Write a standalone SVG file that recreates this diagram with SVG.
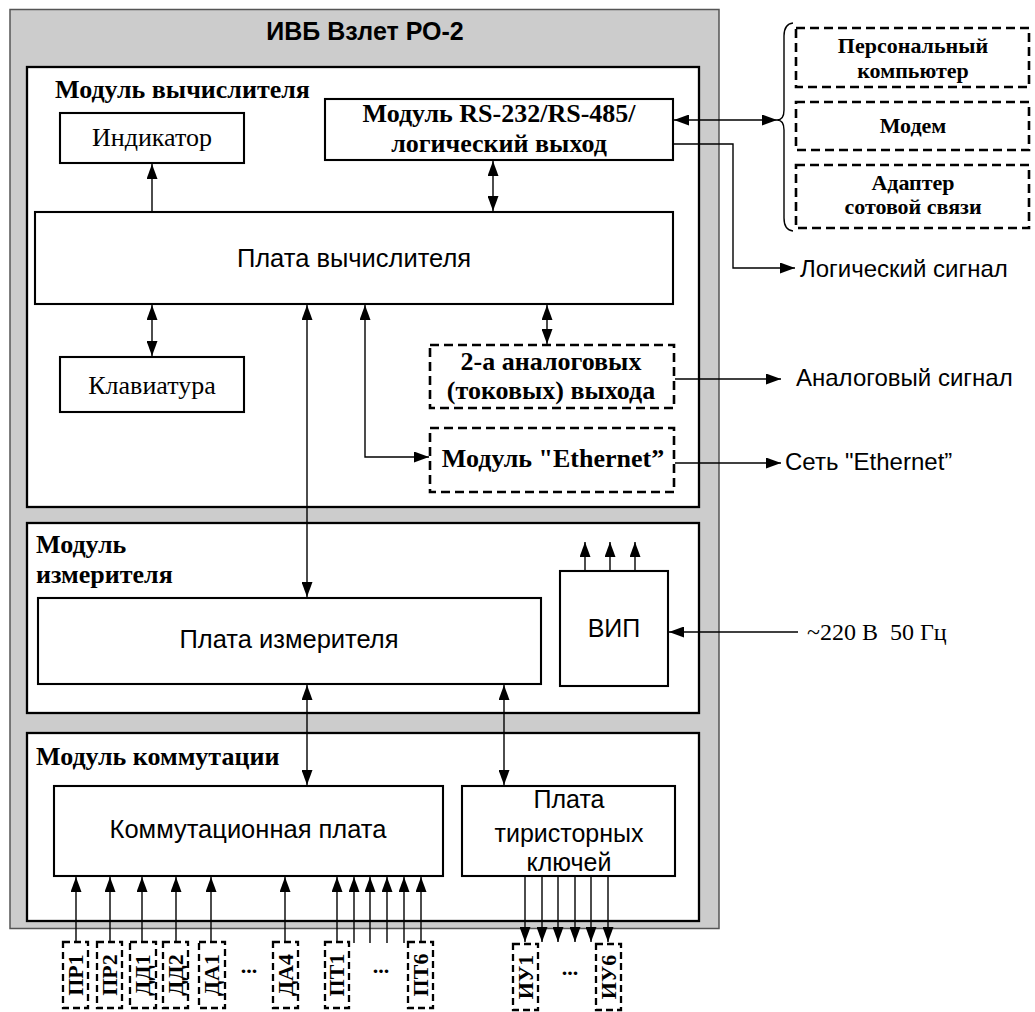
<svg xmlns="http://www.w3.org/2000/svg" width="1035" height="1012" viewBox="0 0 1035 1012">
<style>
.bg{fill:#ffffff}
.gray{fill:#cccccc;stroke:#555555;stroke-width:1.5}
.mod{fill:#ffffff;stroke:#000000;stroke-width:2.3}
.box{fill:#ffffff;stroke:#000000;stroke-width:2.1}
.dash{fill:#ffffff;stroke:#000000;stroke-width:2.6;stroke-dasharray:9 5}
.sdash{fill:#ffffff;stroke:#000000;stroke-width:2.3;stroke-dasharray:7 4}
.ln{fill:none;stroke:#000000;stroke-width:1.4}
.sans{font-family:"Liberation Sans",Arial,sans-serif;fill:#000}
.serif{font-family:"Liberation Serif","Times New Roman",serif;fill:#000}
.b{font-weight:bold}
.c{text-anchor:middle}
</style>
<defs>
<marker id="ar" viewBox="0 0 15 11" refX="15" refY="5.5" markerWidth="15" markerHeight="11" markerUnits="userSpaceOnUse" orient="auto-start-reverse">
<path d="M0,0 L15,5.5 L0,11 z" fill="#000"/>
</marker>
</defs>
<rect class="bg" x="0" y="0" width="1035" height="1012"/>

<g id="ivb">
<rect class="gray" x="10" y="9.5" width="709" height="919"/>
<text class="sans b c" x="365" y="40" font-size="25">ИВБ Взлет РО-2</text>
</g>

<g id="module-calc">
<rect class="mod" x="27" y="67" width="672" height="440"/>
<text class="serif b" x="55" y="98" font-size="26">Модуль вычислителя</text>
</g>
<g id="module-meas">
<rect class="mod" x="27" y="523" width="672" height="190"/>
<text class="serif b" x="36" y="553" font-size="26">Модуль</text>
<text class="serif b" x="36" y="583" font-size="26">измерителя</text>
</g>
<g id="module-comm">
<rect class="mod" x="27" y="733" width="672" height="188"/>
<text class="serif b" x="36" y="765" font-size="26">Модуль коммутации</text>
</g>

<g id="indicator">
<rect class="box" x="60" y="113" width="184" height="50"/>
<text class="serif c" x="152" y="146" font-size="26">Индикатор</text>
</g>
<g id="rs-module">
<rect class="box" x="325" y="99" width="348" height="61"/>
<text class="serif b c" x="499" y="122" font-size="26">Модуль RS-232/RS-485/</text>
<text class="serif b c" x="499" y="152" font-size="26">логический выход</text>
</g>
<g id="calc-board">
<rect class="box" x="35" y="212" width="638" height="92"/>
<text class="sans c" x="354" y="267" font-size="25.5">Плата вычислителя</text>
</g>
<g id="keyboard">
<rect class="box" x="60" y="357" width="184" height="55"/>
<text class="serif c" x="152" y="394" font-size="26">Клавиатура</text>
</g>
<g id="analog-out">
<rect class="dash" x="430" y="345" width="244" height="63"/>
<text class="serif b c" x="551" y="370" font-size="26">2-а аналоговых</text>
<text class="serif b c" x="551" y="399" font-size="26">(токовых) выхода</text>
</g>
<g id="ethernet-module">
<rect class="dash" x="430" y="428" width="244" height="64"/>
<text class="serif b c" x="553" y="467" font-size="26">Модуль "Ethernet”</text>
</g>

<g id="pc">
<rect class="dash" x="796" y="28" width="233" height="59"/>
<text class="serif b c" x="913" y="53" font-size="22">Персональный</text>
<text class="serif b c" x="913" y="78" font-size="22">компьютер</text>
</g>
<g id="modem">
<rect class="dash" x="796" y="102" width="233" height="48"/>
<text class="serif b c" x="913" y="133" font-size="22">Модем</text>
</g>
<g id="gsm">
<rect class="dash" x="796" y="165" width="233" height="63"/>
<text class="serif b c" x="913" y="190" font-size="22">Адаптер</text>
<text class="serif b c" x="913" y="214" font-size="22">сотовой связи</text>
</g>

<g id="meas-board">
<rect class="box" x="38" y="598" width="503" height="86"/>
<text class="sans c" x="289" y="648" font-size="25.5">Плата измерителя</text>
</g>
<g id="vip">
<rect class="box" x="560" y="571" width="108" height="115"/>
<text class="sans c" x="614" y="637" font-size="25">ВИП</text>
</g>
<g id="comm-board">
<rect class="box" x="54" y="786" width="389" height="90"/>
<text class="sans c" x="248" y="838" font-size="25.5">Коммутационная плата</text>
</g>
<g id="thyristor-board">
<rect class="box" x="462" y="786" width="213" height="90"/>
<text class="sans c" x="569" y="808" font-size="25">Плата</text>
<text class="sans c" x="569" y="842" font-size="25">тиристорных</text>
<text class="sans c" x="569" y="871" font-size="25">ключей</text>
</g>

<g id="ext-labels">
<text class="sans" x="800" y="277" font-size="24">Логический сигнал</text>
<text class="sans" x="796" y="386" font-size="24">Аналоговый сигнал</text>
<text class="sans" x="785" y="470" font-size="24">Сеть "Ethernet”</text>
<text class="serif" x="807" y="640" font-size="24">~220 В&#160; 50 Гц</text>
</g>

<g id="sensors">
<rect class="sdash" x="63" y="942" width="25" height="66"/>
<text class="serif b c" transform="translate(82.5,975) rotate(-90)" font-size="22">ПР1</text>
<rect class="sdash" x="97" y="942" width="25" height="66"/>
<text class="serif b c" transform="translate(116.5,975) rotate(-90)" font-size="22">ПР2</text>
<rect class="sdash" x="130" y="942" width="26" height="66"/>
<text class="serif b c" transform="translate(150,975) rotate(-90)" font-size="22">ДД1</text>
<rect class="sdash" x="163" y="942" width="25" height="66"/>
<text class="serif b c" transform="translate(182.5,975) rotate(-90)" font-size="22">ДД2</text>
<rect class="sdash" x="199" y="942" width="26" height="66"/>
<text class="serif b c" transform="translate(219,975) rotate(-90)" font-size="22">ДА1</text>
<text class="serif b c" x="249" y="973" font-size="22">...</text>
<rect class="sdash" x="273" y="942" width="25" height="66"/>
<text class="serif b c" transform="translate(292.5,975) rotate(-90)" font-size="22">ДА4</text>
<rect class="sdash" x="325" y="942" width="24" height="66"/>
<text class="serif b c" transform="translate(344,975) rotate(-90)" font-size="22">ПТ1</text>
<text class="serif b c" x="381" y="973" font-size="22">...</text>
<rect class="sdash" x="408" y="942" width="25" height="66"/>
<text class="serif b c" transform="translate(427.5,975) rotate(-90)" font-size="22">ПТ6</text>
<rect class="sdash" x="513" y="944" width="25" height="66"/>
<text class="serif b c" transform="translate(532.5,977) rotate(-90)" font-size="22">ИУ1</text>
<text class="serif b c" x="570" y="975" font-size="22">...</text>
<rect class="sdash" x="596" y="944" width="25" height="66"/>
<text class="serif b c" transform="translate(615.5,977) rotate(-90)" font-size="22">ИУ6</text>
</g>

<g id="connectors">
<path class="ln" d="M152,212 V164" marker-end="url(#ar)"/>
<path class="ln" d="M493,161 V211" marker-start="url(#ar)" marker-end="url(#ar)"/>
<path class="ln" d="M152,305 V356" marker-start="url(#ar)" marker-end="url(#ar)"/>
<path class="ln" d="M307,305 V597" marker-start="url(#ar)" marker-end="url(#ar)"/>
<path class="ln" d="M365,305 V457 H429" marker-start="url(#ar)" marker-end="url(#ar)"/>
<path class="ln" d="M547,305 V344" marker-start="url(#ar)" marker-end="url(#ar)"/>
<path class="ln" d="M674,120 H777" marker-start="url(#ar)" marker-end="url(#ar)"/>
<path class="ln" d="M673,144 H733 V268 H795" marker-end="url(#ar)"/>
<path class="ln" d="M675,379 H781" marker-end="url(#ar)"/>
<path class="ln" d="M675,463 H781" marker-end="url(#ar)"/>
<path class="ln" d="M793,23 Q784,24 784,36 V110 Q784,120 777,120 Q784,120 784,130 V218 Q784,230 793,231"/>
<path class="ln" d="M798,632 H669" marker-end="url(#ar)"/>
<path class="ln" d="M585,571 V542" marker-end="url(#ar)"/>
<path class="ln" d="M610,571 V542" marker-end="url(#ar)"/>
<path class="ln" d="M635,571 V542" marker-end="url(#ar)"/>
<path class="ln" d="M307,685 V785" marker-start="url(#ar)" marker-end="url(#ar)"/>
<path class="ln" d="M504,685 V785" marker-start="url(#ar)" marker-end="url(#ar)"/>
<path class="ln" d="M76,942 V877" marker-end="url(#ar)"/>
<path class="ln" d="M110,942 V877" marker-end="url(#ar)"/>
<path class="ln" d="M142,942 V877" marker-end="url(#ar)"/>
<path class="ln" d="M176,942 V877" marker-end="url(#ar)"/>
<path class="ln" d="M211,942 V877" marker-end="url(#ar)"/>
<path class="ln" d="M285,942 V877" marker-end="url(#ar)"/>
<path class="ln" d="M337,942 V877" marker-end="url(#ar)"/>
<path class="ln" d="M354,943 V877" marker-end="url(#ar)"/>
<path class="ln" d="M370,943 V877" marker-end="url(#ar)"/>
<path class="ln" d="M387,943 V877" marker-end="url(#ar)"/>
<path class="ln" d="M404,943 V877" marker-end="url(#ar)"/>
<path class="ln" d="M421,942 V877" marker-end="url(#ar)"/>
<path class="ln" d="M525,877 V942" marker-end="url(#ar)"/>
<path class="ln" d="M542,877 V942" marker-end="url(#ar)"/>
<path class="ln" d="M558,877 V942" marker-end="url(#ar)"/>
<path class="ln" d="M575,877 V942" marker-end="url(#ar)"/>
<path class="ln" d="M591,877 V942" marker-end="url(#ar)"/>
<path class="ln" d="M608,877 V942" marker-end="url(#ar)"/>
</g>
</svg>
